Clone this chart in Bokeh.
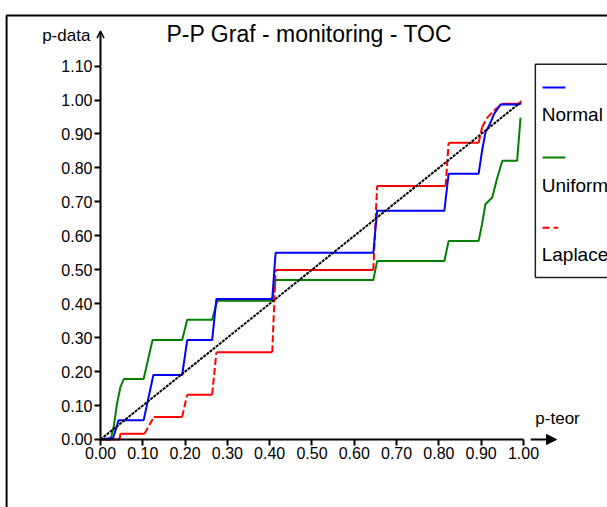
from bokeh.plotting import figure
from bokeh.models import (Range1d, FixedTicker, PrintfTickFormatter, Label,
                          BoxAnnotation, Arrow, OpenHead, NormalHead)
from bokeh.embed import file_html
from bokeh.resources import INLINE

FONT = "Liberation Sans"

# ---------------- data ----------------
x_ticks = [0.0, 0.1, 0.2, 0.3, 0.4, 0.5, 0.6, 0.7, 0.8, 0.9, 1.0]
y_ticks = [0.0, 0.1, 0.2, 0.3, 0.4, 0.5, 0.6, 0.7, 0.8, 0.9, 1.0, 1.1]

normal_x = [0.0, 0.030, 0.043, 0.102, 0.125, 0.193, 0.205, 0.264, 0.274, 0.406, 0.414,
            0.645, 0.654, 0.813, 0.823, 0.894, 0.902, 0.910, 0.922, 0.930, 0.946, 0.989, 0.995]
normal_y = [0.0, 0.005, 0.057, 0.057, 0.190, 0.190, 0.293, 0.293, 0.414, 0.414, 0.550,
            0.550, 0.674, 0.674, 0.783, 0.783, 0.850, 0.904, 0.933, 0.958, 0.987, 0.987, 0.990]

uniform_x = [0.0, 0.024, 0.031, 0.039, 0.047, 0.055, 0.102, 0.123, 0.193, 0.205, 0.264,
             0.276, 0.406, 0.414, 0.645, 0.654, 0.813, 0.823, 0.894, 0.902, 0.910, 0.926,
             0.938, 0.950, 0.985, 0.993]
uniform_y = [0.0, 0.0, 0.036, 0.105, 0.154, 0.178, 0.178, 0.293, 0.293, 0.353, 0.353,
             0.409, 0.409, 0.470, 0.470, 0.526, 0.526, 0.585, 0.585, 0.634, 0.693, 0.713,
             0.771, 0.821, 0.821, 0.948]

laplace_x = [0.0, 0.045, 0.047, 0.104, 0.126, 0.193, 0.205, 0.264, 0.274, 0.406, 0.414,
             0.645, 0.654, 0.816, 0.823, 0.894, 0.902, 0.914, 0.930, 0.950, 0.989, 0.995]
laplace_y = [0.0, 0.0, 0.017, 0.017, 0.066, 0.066, 0.132, 0.132, 0.257, 0.257, 0.499,
             0.499, 0.747, 0.747, 0.874, 0.874, 0.919, 0.948, 0.968, 0.989, 0.989, 0.997]

diag_x = [0.0, 0.99]
diag_y = [0.0, 0.99]

# ---------------- figure ----------------
# frame fills the whole canvas; axes are fixed at the data origin
p = figure(width=607, height=507,
           x_range=Range1d(-0.2364, 1.1986), y_range=Range1d(-0.2003, 1.2931),
           min_border=0, output_backend="svg", toolbar_location=None, title=None)
p.outline_line_color = None
p.grid.visible = False
p.background_fill_color = "white"
p.border_fill_color = "white"

for ax in (p.xaxis[0], p.yaxis[0]):
    ax.fixed_location = 0
    ax.axis_line_width = 2
    ax.axis_line_color = "black"
    ax.major_tick_line_width = 2
    ax.major_tick_line_color = "black"
    ax.minor_tick_line_color = None
    ax.major_tick_in = 0
    ax.major_tick_out = 6
    ax.major_label_text_font = FONT
    ax.major_label_text_font_size = "16px"
    ax.major_label_text_color = "black"
    ax.major_label_standoff = 2
    ax.formatter = PrintfTickFormatter(format="%.2f")
p.xaxis[0].ticker = FixedTicker(ticks=x_ticks)
p.yaxis[0].ticker = FixedTicker(ticks=y_ticks)
p.xaxis[0].bounds = (0, 1)
p.yaxis[0].bounds = (0, 1.1)

# series
p.line(uniform_x, uniform_y, line_color="#008000", line_width=2)
sx0, sy0, sx1, sy1 = [], [], [], []
dx0, dy0, dx1, dy1 = [], [], [], []
for i in range(len(laplace_x) - 1):
    if laplace_y[i] == laplace_y[i + 1]:
        sx0.append(laplace_x[i]); sy0.append(laplace_y[i]); sx1.append(laplace_x[i + 1]); sy1.append(laplace_y[i + 1])
    else:
        dx0.append(laplace_x[i]); dy0.append(laplace_y[i]); dx1.append(laplace_x[i + 1]); dy1.append(laplace_y[i + 1])
p.segment(sx0, sy0, sx1, sy1, line_color="#ff0000", line_width=2)
p.segment(dx0, dy0, dx1, dy1, line_color="#ff0000", line_width=2, line_dash="7 3")
p.line(normal_x, normal_y, line_color="#0000ff", line_width=2)
p.line(diag_x, diag_y, line_color="black", line_width=2, line_dash="3 1")

# axis arrows
p.add_layout(Arrow(x_start=0, y_start=1.1, x_end=0, y_end=1.203,
                   end=OpenHead(size=7, line_width=1.5), line_width=2))
p.add_layout(Arrow(x_start=1.017, y_start=0, x_end=1.078, y_end=0,
                   end=NormalHead(size=10, fill_color="black", line_color="black"), line_width=2))

# texts
p.add_layout(Label(x=0.494, y=1.155, text="P-P Graf - monitoring - TOC", text_align="center",
                   text_font=FONT, text_font_size="23px", text_color="black"))
p.add_layout(Label(x=-0.024, y=1.163, text="p-data", text_align="right",
                   text_font=FONT, text_font_size="17px", text_color="black"))
p.add_layout(Label(x=1.028, y=0.035, text="p-teor", text_align="left",
                   text_font=FONT, text_font_size="17px", text_color="black"))

# outer frame
p.add_layout(BoxAnnotation(left=-0.222, right=2, top=1.249, bottom=-1,
                           fill_alpha=0, line_color="black", line_alpha=1.0, line_width=2))

# legend
p.add_layout(BoxAnnotation(left=1.028, right=2, top=1.105, bottom=0.477,
                           fill_alpha=0, line_color="#222222", line_alpha=1.0, line_width=1.5))
leg = [("Normal", "#0000ff", "solid", 1.037, 0.925, 1.099),
       ("Uniform", "#008000", "solid", 0.831, 0.716, 1.099),
       ("Laplace", "#ff0000", "7 4", 0.624, 0.515, 1.082)]
for name, col, dash, ly, ty, xe in leg:
    p.add_layout(Arrow(x_start=1.045, y_start=ly, x_end=xe, y_end=ly, end=None,
                       line_color=col, line_width=2, line_dash=dash))
    p.add_layout(Label(x=1.043, y=ty, text=name, text_font=FONT, text_font_size="19px",
                       text_color="black"))

open("out.html", "w").write(file_html(p, INLINE))
